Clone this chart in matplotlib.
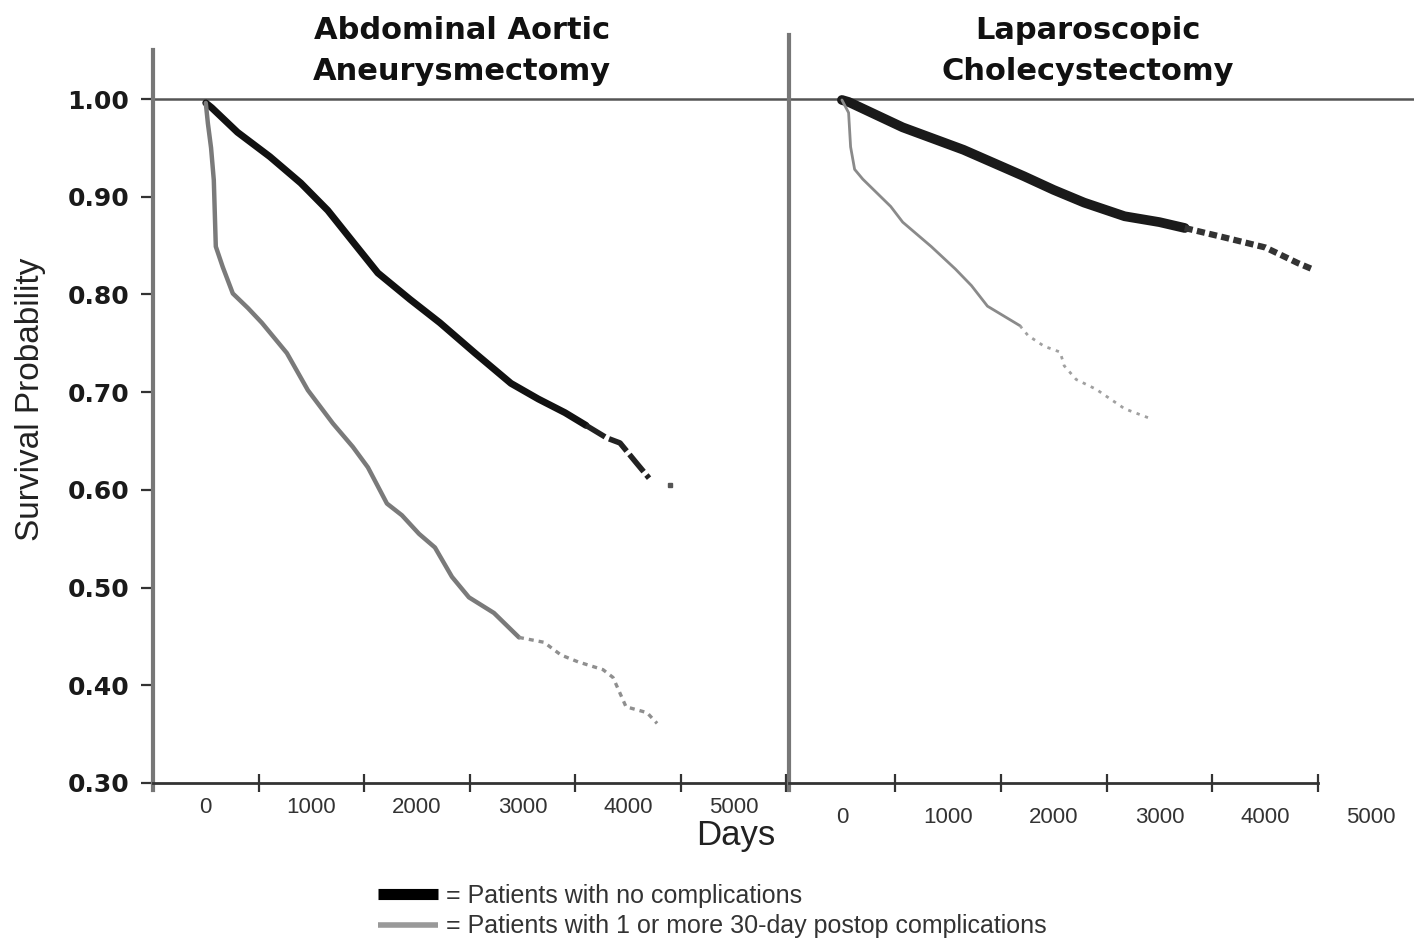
import matplotlib
matplotlib.use("Agg")
import matplotlib.pyplot as plt
from matplotlib.lines import Line2D
import numpy as np

plt.rcParams['font.family'] = ['Liberation Sans', 'DejaVu Sans']

# ---------------- data ----------------
panel_titles = ["Abdominal Aortic\nAneurysmectomy", "Laparoscopic\nCholecystectomy"]
series_labels = ["= Patients with no complications",
                 "= Patients with 1 or more 30-day postop complications"]

# Abdominal aortic aneurysmectomy - no complications
aaa_none_days = [0, 57, 300, 607, 900, 1156, 1400, 1630, 1934, 2218, 2550, 2891,
                 3150, 3403, 3602, 3801, 3924, 4076, 4199]
aaa_none_surv = [0.996, 0.991, 0.966, 0.941, 0.914, 0.886, 0.853, 0.822, 0.795, 0.771,
                 0.740, 0.709, 0.693, 0.679, 0.666, 0.653, 0.648, 0.628, 0.612]
aaa_none_last = (4400, 0.605)

# Abdominal aortic aneurysmectomy - with complications
aaa_comp_days = [0, 20, 50, 76, 95, 161, 256, 400, 531, 768, 967, 1204, 1393, 1536,
                 1716, 1858, 2020, 2171, 2332, 2493, 2730, 2967, 3204, 3365, 3526,
                 3763, 3858, 3981, 4180, 4275]
aaa_comp_surv = [0.996, 0.975, 0.950, 0.917, 0.849, 0.828, 0.801, 0.786, 0.771, 0.740,
                 0.702, 0.668, 0.644, 0.623, 0.586, 0.574, 0.555, 0.541, 0.511, 0.490,
                 0.474, 0.449, 0.444, 0.431, 0.424, 0.416, 0.408, 0.378, 0.372, 0.361]

# Laparoscopic cholecystectomy - no complications
lc_none_days = [0, 63, 574, 1149, 1719, 2000, 2288, 2671, 3000, 3239, 3625, 4002, 4309, 4463]
lc_none_surv = [0.999, 0.997, 0.971, 0.948, 0.921, 0.907, 0.894, 0.880, 0.874, 0.868,
                0.858, 0.848, 0.832, 0.825]

# Laparoscopic cholecystectomy - with complications
lc_comp_days = [0, 63, 82, 120, 197, 461, 574, 844, 1072, 1224, 1375, 1682, 1758,
                1910, 2062, 2100, 2213, 2401, 2671, 2938]
lc_comp_surv = [0.999, 0.986, 0.951, 0.928, 0.918, 0.890, 0.874, 0.849, 0.826, 0.809,
                0.788, 0.768, 0.758, 0.747, 0.741, 0.727, 0.713, 0.703, 0.683, 0.672]

y_ticks = [0.30, 0.40, 0.50, 0.60, 0.70, 0.80, 0.90, 1.00]
x_labels = [0, 1000, 2000, 3000, 4000, 5000]

# ---------------- figure ----------------
W, H = 1414, 940
fig = plt.figure(figsize=(W / 100, H / 100), dpi=100)

def fx(px):
    return px / W

def fy(py):
    return 1 - py / H

bot, top = fy(783), fy(35)
ax1 = fig.add_axes([fx(153), bot, fx(789) - fx(153), top - bot])
ax2 = fig.add_axes([fx(789), bot, fx(1414) - fx(789), top - bot])

ylo = 0.30
yhi = 1.00 + (99 - 35) / 977.0
for ax in (ax1, ax2):
    ax.set_ylim(ylo, yhi)
    ax.set_facecolor('none')
    ax.spines['top'].set_visible(False)
    ax.spines['right'].set_visible(False)
    ax.axhline(1.0, color='#555555', lw=1.8, zorder=1)
    ax.spines['bottom'].set_color('#333333')
    ax.spines['bottom'].set_linewidth(2)
    ax.spines['left'].set_color('#777777')
    ax.spines['left'].set_linewidth(3)

ax1.set_xlim(-500, 5525)
ax2.set_xlim(-500, (1414 - 840) / 0.1062)

ax1.spines['left'].set_bounds(0.293, 1.05)
ax1.spines['left'].set_clip_on(False)
ax2.spines['left'].set_bounds(0.293, yhi)
ax2.spines['left'].set_clip_on(False)
ax2.spines['bottom'].set_bounds(-500, 4500)

# ---- curves ----
def draw(ax, days, surv, split, color, lw, tail_color, tail_lw, ls_tail):
    d = np.asarray(days, float)
    s = np.asarray(surv, float)
    idx = np.where(d <= split)[0][-1]
    ax.plot(d[:idx + 1], s[:idx + 1], color=color, lw=lw, solid_capstyle='round',
            solid_joinstyle='round', zorder=3, clip_on=False)
    ax.plot(d[idx:], s[idx:], color=tail_color, lw=tail_lw, linestyle=ls_tail,
            zorder=3, clip_on=False)

draw(ax1, aaa_none_days, aaa_none_surv, 3602, '#111111', 5.0, '#222222', 4.0, (0, (4, 0.8)))
ax1.plot([aaa_none_last[0]], [aaa_none_last[1]], marker='s', ms=2.5, color='#555555', ls='none')
draw(ax1, aaa_comp_days, aaa_comp_surv, 2967, '#7a7a7a', 3.2, '#8f8f8f', 2.4, (0, (1.5, 1.5)))
draw(ax2, lc_none_days, lc_none_surv, 3239, '#1a1a1a', 7.0, '#333333', 4.5, (0, (1.3, 0.7)))
draw(ax2, lc_comp_days, lc_comp_surv, 1682, '#8a8a8a', 2.0, '#a0a0a0', 2.0, (0, (1.2, 2.0)))

# ---- ticks ----
tick_font = dict(fontsize=16, color='#333333')
ax1.set_xticks(x_labels)
ax1.set_xticklabels([str(v) for v in x_labels], **tick_font)
ax1.set_xticks(np.arange(-500, 5501, 500), minor=True)
ax1.tick_params(axis='x', which='major', length=0, pad=10)
ax1.tick_params(axis='x', which='minor', direction='inout', length=13, width=1.6, color='#333333')

ax2.set_xticks(x_labels)
ax2.set_xticklabels([str(v) for v in x_labels], **tick_font)
ax2.set_xticks(np.arange(0, 4501, 500), minor=True)
ax2.tick_params(axis='x', which='major', length=0, pad=17)
ax2.tick_params(axis='x', which='minor', direction='inout', length=13, width=1.6, color='#333333')

ax1.set_yticks(y_ticks)
ax1.set_yticklabels([f"{v:.2f}" for v in y_ticks], fontsize=18, fontweight='bold',
                    color='#1a1a1a', family='DejaVu Sans')
ax1.tick_params(axis='y', direction='out', length=9, width=1.6, color='#333333', pad=8)
ax2.set_yticks([])

# ---- texts ----
title_kw = dict(ha='center', va='center', fontsize=22, fontweight='bold',
                linespacing=1.5, color='#111111', family='DejaVu Sans')
fig.text(fx(462), fy(51), panel_titles[0], **title_kw)
fig.text(fx(1088), fy(51), panel_titles[1], **title_kw)
fig.text(fx(31), fy(399), "Survival Probability", rotation=90, ha='center', va='center',
         fontsize=24, color='#222222')
fig.text(fx(736), fy(836), "Days", ha='center', va='center', fontsize=25, color='#222222')

handles = [Line2D([], [], color='#000000', lw=8, solid_capstyle='butt'),
           Line2D([], [], color='#999999', lw=4, solid_capstyle='butt')]
fig.legend(handles, series_labels, loc='upper left', bbox_to_anchor=(fx(378), fy(884)),
           frameon=False, fontsize=18, handlelength=2.4, handletextpad=0.3,
           labelspacing=0.25, borderpad=0, borderaxespad=0, labelcolor='#333333')

fig.savefig("out.png", dpi=100)
